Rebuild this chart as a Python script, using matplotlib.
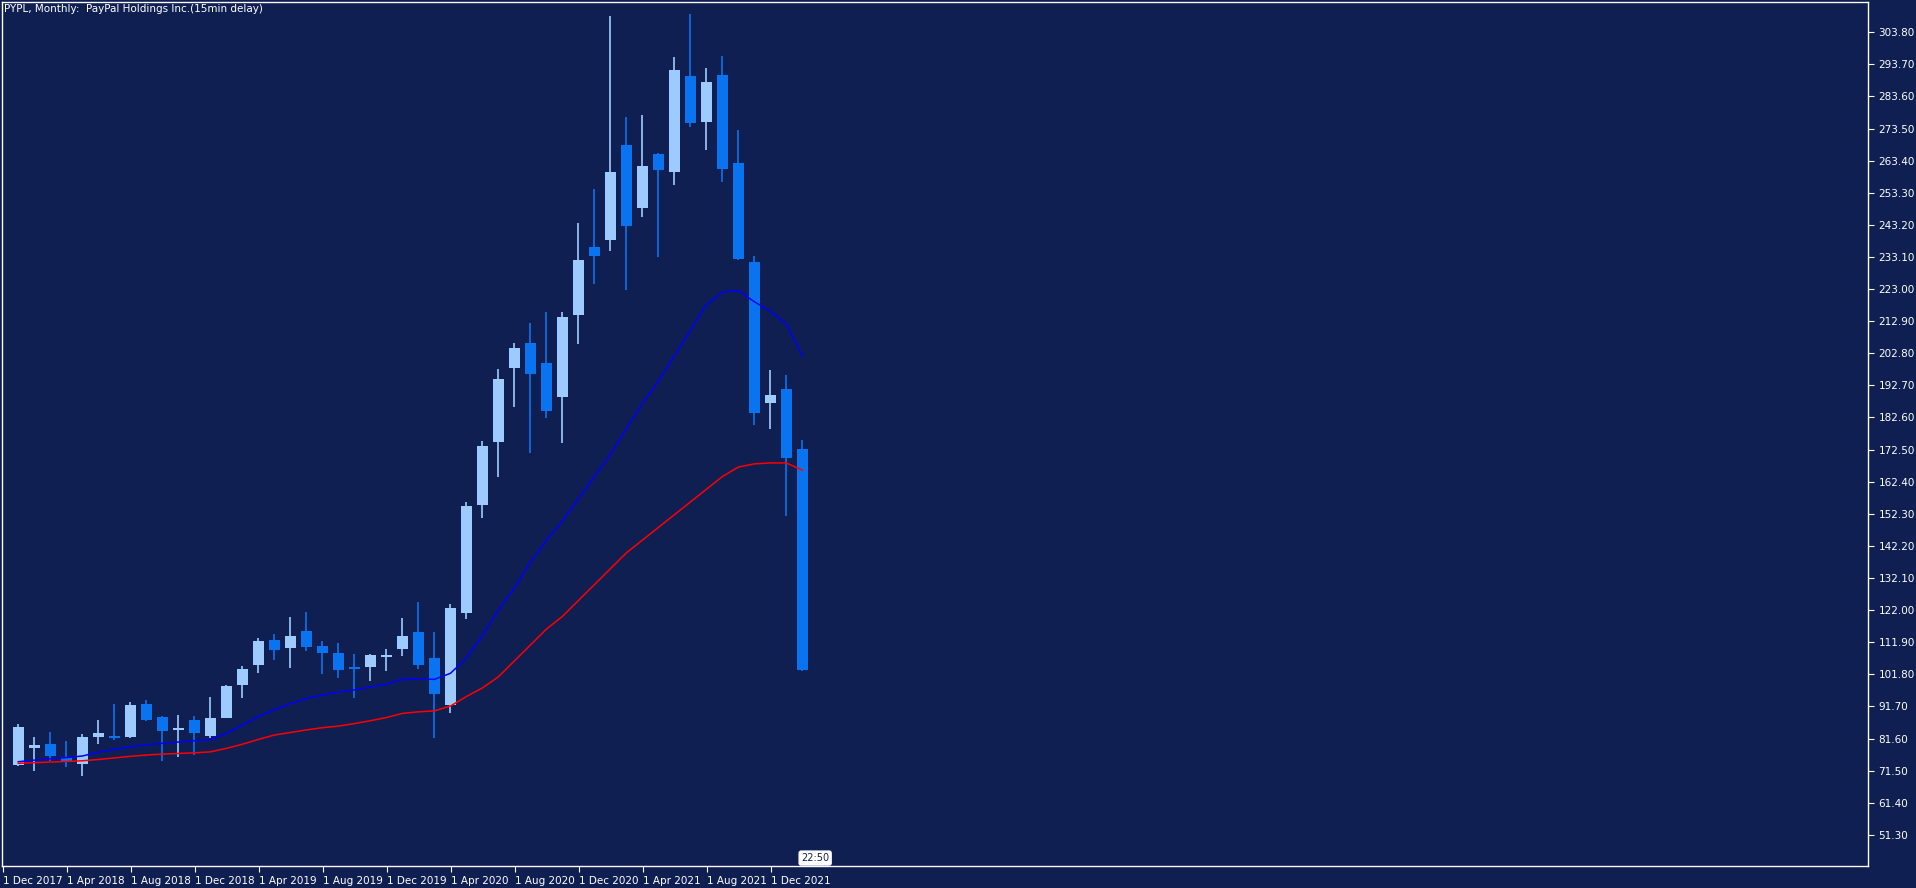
#!/usr/bin/env python3
"""PYPL monthly candles with two moving averages, MT4-style dark chart."""

import matplotlib
matplotlib.use('Agg')
import matplotlib.pyplot as plt
import numpy as np

# Monthly candles Dec 2017 .. Jan 2022
months = ['Dec 2017', 'Jan 2018', 'Feb 2018', 'Mar 2018', 'Apr 2018', 'May 2018', 'Jun 2018',
          'Jul 2018', 'Aug 2018', 'Sep 2018', 'Oct 2018', 'Nov 2018', 'Dec 2018', 'Jan 2019',
          'Feb 2019', 'Mar 2019', 'Apr 2019', 'May 2019', 'Jun 2019', 'Jul 2019', 'Aug 2019',
          'Sep 2019', 'Oct 2019', 'Nov 2019', 'Dec 2019', 'Jan 2020', 'Feb 2020', 'Mar 2020',
          'Apr 2020', 'May 2020', 'Jun 2020', 'Jul 2020', 'Aug 2020', 'Sep 2020', 'Oct 2020',
          'Nov 2020', 'Dec 2020', 'Jan 2021', 'Feb 2021', 'Mar 2021', 'Apr 2021', 'May 2021',
          'Jun 2021', 'Jul 2021', 'Aug 2021', 'Sep 2021', 'Oct 2021', 'Nov 2021', 'Dec 2021',
          'Jan 2022']
opens = [73.25, 78.7, 79.86, 75.66, 73.57, 82.06, 82.48, 82.06, 92.4, 88.35, 84.37, 87.4, 82.38,
         88.04, 98.42, 104.7, 112.58, 110.07, 115.4, 110.7, 108.5, 104.1, 104.1, 107.2, 109.75,
         115.1, 106.9, 92.13, 121.08, 155.0, 174.9, 198.2, 206.0, 199.7, 189.0, 214.84, 236.2,
         238.4, 268.3, 248.5, 265.5, 259.8, 290.05, 275.6, 290.4, 262.7, 231.5, 187.15, 191.6,
         172.7]
highs = [86.05, 82.06, 83.6, 80.8, 83.0, 87.4, 92.4, 93.1, 93.7, 88.67, 89.0, 88.67, 94.65, 98.4,
         104.4, 113.2, 114.47, 119.8, 121.4, 112.3, 111.6, 108.2, 108.2, 109.75, 119.5, 124.5,
         115.1, 123.9, 156.0, 175.2, 197.85, 206.0, 212.3, 215.8, 215.8, 243.8, 254.5, 308.9,
         277.2, 277.8, 265.8, 296.0, 309.6, 292.6, 296.3, 273.05, 233.4, 197.5, 196.0, 175.5]
lows = [72.9, 71.47, 74.6, 72.7, 69.9, 79.86, 81.1, 81.85, 87.0, 74.5, 75.9, 76.4, 81.64, 88.0,
        94.3, 102.2, 106.3, 103.8, 109.1, 101.9, 100.6, 94.3, 99.7, 102.8, 107.55, 103.46, 81.75,
        89.6, 119.2, 151.0, 164.0, 186.0, 171.5, 182.5, 174.7, 205.8, 224.6, 235.0, 222.7, 245.7,
        233.1, 255.75, 274.0, 266.8, 256.7, 232.1, 180.2, 179.0, 151.7, 103.0]
closes = [85.1, 79.5, 76.08, 74.6, 82.06, 83.3, 81.85, 92.13, 87.4, 83.95, 85.0, 83.3, 88.04,
          98.1, 103.46, 112.27, 109.4, 113.84, 110.4, 108.5, 103.15, 103.5, 107.9, 107.9, 113.84,
          104.7, 95.6, 122.65, 154.75, 173.6, 194.7, 204.46, 196.3, 184.6, 214.2, 232.1, 233.4,
          259.8, 242.9, 261.7, 260.5, 291.9, 275.3, 288.2, 260.8, 232.5, 184.0, 189.7, 169.8,
          103.2]
ma_fast = [74.3, 74.8, 75.2, 75.6, 76.1, 77.3, 78.2, 79.0, 79.6, 80.1, 80.5, 80.9, 81.3, 83.2,
           85.8, 88.5, 90.7, 92.6, 94.2, 95.3, 96.2, 96.9, 97.8, 98.7, 100.2, 100.4, 100.2, 102.1,
           106.8, 114, 122, 129, 137, 144, 150, 157, 164, 171, 179, 187, 194, 202, 210, 218, 222,
           222.5, 219, 216, 212, 202]
ma_slow = [73.8, 74.0, 74.2, 74.4, 74.6, 75.0, 75.5, 76.0, 76.4, 76.7, 76.9, 77.1, 77.4, 78.5,
           79.8, 81.3, 82.7, 83.5, 84.3, 85.0, 85.5, 86.3, 87.2, 88.2, 89.5, 90.0, 90.3, 91.8,
           94.8, 97.5, 101, 106, 111, 116, 120, 125, 130, 135, 140, 144, 148, 152, 156, 160, 164,
           167, 168, 168.3, 168.3, 166]
price_ticks = [51.3, 61.4, 71.5, 81.6, 91.7, 101.8, 111.9, 122.0, 132.1, 142.2, 152.3, 162.4,
               172.5, 182.6, 192.7, 202.8, 212.9, 223.0, 233.1, 243.2, 253.3, 263.4, 273.5,
               283.6, 293.7, 303.8]

BG = '#101f52'
BULL = '#9dcbff'
BEAR = '#0a74f0'

fig = plt.figure(figsize=(19.16, 8.88), dpi=100, facecolor=BG)
ax = fig.add_axes([2 / 1916, 22 / 888, 1866 / 1916, 864 / 888], facecolor=BG)

x = np.arange(len(months))
for i in x:
    o, h, l, c = opens[i], highs[i], lows[i], closes[i]
    col = BULL if c >= o else BEAR
    ax.vlines(i, l, h, color=col, linewidth=1.2, zorder=2)
    lo, hi = min(o, c), max(o, c)
    ax.bar(i, max(hi - lo, 0.6), bottom=lo, width=0.69, color=col, linewidth=0, zorder=3)

ax.plot(x, ma_fast, color='#0000ff', linewidth=1.1, zorder=4)
ax.plot(x, ma_slow, color='#ff0000', linewidth=1.1, zorder=4)

ax.set_xlim(-1.02, 115.6)
ax.set_ylim(41.5, 313.3)

ax.yaxis.tick_right()
ax.set_yticks(price_ticks)
ax.set_yticklabels([f'{p:.2f}' for p in price_ticks])
label_idx = list(range(0, len(months), 4))
ax.set_xticks([i - 0.98 for i in label_idx])
ax.set_xticklabels(['1 ' + months[i] for i in label_idx], ha='left')
ax.tick_params(colors='white', labelcolor='white', labelsize=7.5, length=4, width=0.8)
for s in ax.spines.values():
    s.set_color('white')
    s.set_linewidth(1)

fig.text(4 / 1916, 1 - 4 / 888, 'PYPL, Monthly:  PayPal Holdings Inc.(15min delay)',
         color='white', fontsize=7.5, va='top', ha='left')
ax.text(49.8, 44, '22:50', color='#101f52', fontsize=7, ha='center', va='center', zorder=6,
        bbox=dict(boxstyle='round,pad=0.2', fc='white', ec='white'))

fig.savefig('out.png', dpi=100, facecolor=BG)
